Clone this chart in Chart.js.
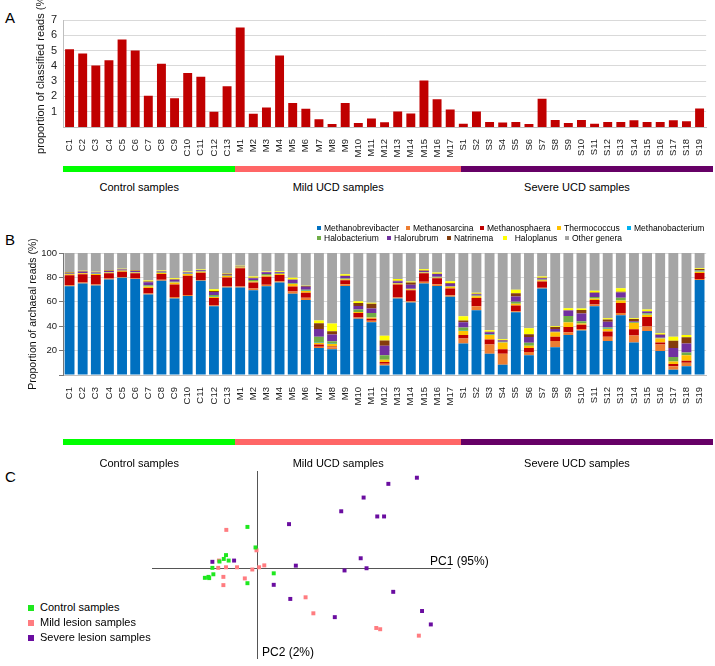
<!DOCTYPE html>
<html>
<head>
<meta charset="utf-8">
<script src="https://cdn.jsdelivr.net/npm/chart.js"></script>
<style>
body{margin:0;width:715px;height:666px;position:relative;background:#fff;font-family:"Liberation Sans",Arial,sans-serif;overflow:hidden;color:#000}
canvas{position:absolute}
.txt{position:absolute;white-space:nowrap}
.panel{font-size:15px}
.grp{position:absolute;height:6px}
.grpLabel{position:absolute;font-size:11px;transform:translateX(-50%);white-space:nowrap}
.leg{position:absolute;font-size:8.5px;white-space:nowrap;line-height:10px}
.leg i{display:inline-block;width:4px;height:4px;margin-right:3px;vertical-align:1px}
.cleg{position:absolute;font-size:11px;white-space:nowrap;line-height:12px}
.cleg i{display:inline-block;width:6px;height:6px;margin-right:6px;vertical-align:0}
</style>
</head>
<body>
<div class="txt panel" style="left:5px;top:9px">A</div>
<div class="txt panel" style="left:5px;top:231px">B</div>
<div class="txt panel" style="left:5px;top:468px">C</div>

<canvas id="chartA" width="715" height="160" style="left:0;top:0"></canvas>
<canvas id="chartB" width="715" height="212" style="left:0;top:200px"></canvas>
<canvas id="chartC" width="306" height="195" style="left:148px;top:467px"></canvas>

<div class="txt" style="left:430px;top:554px;font-size:12px">PC1 (95%)</div>
<div class="txt" style="left:262px;top:645px;font-size:12px">PC2 (2%)</div>

<div id="legendB"></div>
<div id="legendC"></div>
<div id="groupsA"></div>
<div id="groupsB"></div>

<script>
const samples = ["C1","C2","C3","C4","C5","C6","C7","C8","C9","C10","C11","C12","C13",
  "M1","M2","M3","M4","M5","M6","M7","M8","M9","M10","M11","M12","M13","M14","M15","M16","M17",
  "S1","S2","S3","S4","S5","S6","S7","S8","S9","S10","S11","S12","S13","S14","S15","S16","S17","S18","S19"];
const groupNames = ["Control samples","Mild UCD samples","Severe UCD samples"];
const groupSizes = [13,17,19];
const groupColors = ["#00FF00","#FF6666","#660066"];

// panel A
const classified = [5.08,4.81,4.02,4.37,5.72,5.01,2.05,4.13,1.88,3.53,3.29,0.99,2.67,
  6.51,0.86,1.28,4.68,1.57,1.19,0.51,0.2,1.57,0.26,0.55,0.31,1.02,0.88,3.05,1.81,1.15,
  0.22,1.02,0.33,0.29,0.33,0.2,1.85,0.46,0.26,0.46,0.22,0.33,0.33,0.44,0.33,0.33,0.44,0.38,1.21];
const ticksA = [1,2,3,4,5,6,7];

// panel B
const genera = ["Methanobrevibacter","Methanosarcina","Methanosphaera","Thermococcus","Methanobacterium",
  "Halobacterium","Halorubrum","Natrinema","Haloplanus","Other genera"];
const generaColors = ["#0070C0","#ED7D31","#C00000","#FFC000","#00B0F0","#70AD47","#7030A0","#843C0C","#FFFF00","#A5A5A5"];
const methanobrevibacter = [72.8,75,73.3,78.3,79.7,78.6,66,77.2,62.8,64.7,77.2,56.4,71.7,
  71.7,69.4,72.8,75.8,66.7,61.4,22.2,21.1,73,46.1,43.3,7.8,62.8,59.4,75,73,64.2,
  25.8,53,17.5,8.3,51.4,16.1,70.8,22.8,32.8,36.4,56.4,27.8,48.9,26.7,36.1,19.7,4.4,7.2,77.8];
const methanosarcina = [0.8,0.8,0.8,0.7,0.6,0.6,0.8,0.8,1.1,0.8,0.6,0.6,0.8,
  0.8,1.4,1.1,1.1,1.7,1.9,1,1.7,1.4,1.1,1.1,1.4,0.8,1.1,1.4,1.4,1.1,
  4.2,3.3,7.5,9.2,0.8,2.8,0.8,5,2.2,1.4,1.4,3.6,1.9,5.6,3.6,5.3,2.8,2.8,0.8];
const methanosphaera = [8.1,6.7,7.9,4.3,4.4,4.1,4.6,4.8,10.3,15.9,6,6.2,7.5,
  15,5,6.6,5,4.2,4.2,1.7,0.5,3.3,3.6,1.7,1.4,10.6,8.9,6.9,5,5.6,
  2.8,6.9,4.2,3.6,4.7,3.3,5,3.6,4.4,3.3,3.6,4.2,8.3,5.3,7.8,1.7,1.9,1.7,5];
const thermococcus = [0.8,0.8,0.8,0.8,0.7,0.8,1.2,0.8,1.7,1.4,0.8,0.8,1.1,
  0.6,0.8,1.1,0.8,1.9,1.4,1.4,2.2,0.8,0.8,1.1,1.9,0.8,0.8,0.8,0.6,1.4,
  3.3,1.4,3.6,5.6,1.4,1.7,1.1,3.6,3.9,1.1,1.4,2.2,1.9,5,1.9,3.3,1.9,4.4,1.1];
const methanobacterium = [0.1,0.1,0.1,0.1,0.1,0.1,0.1,0.1,0.1,0.1,0.1,0.1,0.1,
  0.1,0.1,0.1,0.1,0.1,0.1,0.1,0.1,0.1,0.1,0.1,0.1,0.1,0.1,0.1,0.1,0.1,
  0.1,0.1,0.1,0.1,0.1,0.1,0.1,0.1,0.1,0.1,0.1,0.1,0.1,0.1,0.1,0.1,0.1,0.1,0.1];
const halobacterium = [0.3,0.3,0.3,0.3,0.2,0.3,0.8,0.3,0.5,0.3,0.3,1.4,0.3,
  0.2,1.1,1.1,0.3,0.6,0.8,5,2,0.6,1.9,3.6,3.6,0.4,0.3,0.3,0.4,0.4,
  2.8,0.4,0.8,0.4,1.7,2.5,0.4,0.4,5,1.7,1.1,1.1,2.2,0.6,1.1,0.4,3.6,2.2,0.8];
const halorubrum = [0.8,1,0.8,0.8,0.7,0.8,2.6,0.8,1.5,0.8,0.8,2.5,0.6,
  0.4,1.6,1.4,1.1,2.8,2.5,6.4,5.5,1.9,3,3.6,7.8,1.4,3.3,0.8,2.2,1.9,
  4.2,1,1.4,1.1,4.2,4.7,1.1,2.2,4.4,6.4,3.3,4.7,4.4,0.8,1.4,2.2,7.5,7.5,0.4];
const natrinema = [0.3,0.3,0.3,0.3,0.2,0.3,0.6,0.3,0.5,0.3,0.3,0.8,0.8,
  0.2,0.3,0.2,0.2,0.3,0.6,4.7,2.8,0.3,2.5,3.9,4.2,0.4,1.9,0.3,0.3,0.8,
  1.4,0.4,0.4,0.3,2.8,2.2,0.4,1.7,0.3,2.8,0.4,1.7,0.6,1.9,0.3,0.4,5.8,5,0.8];
const haloplanus = [0.5,0.4,0.4,0.4,0.4,0.5,0.8,0.5,0.8,0.5,0.4,1.5,0.6,
  0.5,1.1,0.5,0.6,1.4,0.3,2.2,6.4,1.1,1.4,0.8,3.9,1.4,0.8,1.1,1.1,1.4,
  3.6,1,1.1,0.8,2.8,5,1,0.6,1.7,1.4,1.4,1.1,2.8,0.6,1.4,1.1,3.3,1.9,0.6];
const otherGenera = [15.5,14.6,15.3,14,13,13.9,22.5,14.4,20.7,15.2,13.5,29.7,16.5,
  10.5,19.2,15.1,15,20.3,26.8,55.3,57.7,17.5,39.5,40.8,67.9,21.3,23.4,13.3,15.9,23.1,
  51.8,32.5,63.4,70.6,30.1,61.6,19.3,60,45.2,45.4,30.9,53.5,28.9,53.4,46.3,65.8,68.7,67.2,12.6];
const ticksB = [0,20,40,60,80,100];

// panel C (PCA scores)
const pcaGroups = ["Control samples","Mild lesion samples","Severe lesion samples"];
const pcaColors = ["#1EE81E","#FF7C80","#6A0DA0"];
const controlPC1 = [-1.0,-0.17,-3.2,-3.43,-2.93,-3.87,-4.6,-4.5,-5.37,-5.0,-4.93,-1.0,1.7];
const controlPC2 = [4.37,2.23,1.43,1.03,0.86,0.76,0.1,-0.57,-0.94,-0.84,-0.97,-1.5,-0.47];
const mildPC1 = [-3.17,-0.07,-3.93,-4.0,-3.2,-2.07,-0.5,0.2,0.73,-3.47,-1.27,-3.47,4.97,5.77,12.23,12.63,16.6];
const mildPC2 = [4.06,1.93,0.86,0.1,0.16,0.16,-0.07,0.16,0.36,-0.84,-1.0,-1.7,-2.97,-4.64,-6.17,-6.3,-6.97];
const severePC1 = [-4.6,-2.37,3.27,3.97,1.7,3.4,7.97,8.63,10.93,12.33,13.03,13.47,16.4,10.63,8.97,11.23,13.97,16.93,17.83];
const severePC2 = [0.73,0.86,4.66,0.33,-1.67,-3.14,-5.04,6.0,7.43,5.46,5.46,8.86,9.5,1.1,-0.17,0.06,-2.4,-4.4,-5.8];

Chart.defaults.font.family = '"Liberation Sans", Arial, sans-serif';
Chart.defaults.color = "#222";
Chart.defaults.animation = false;

const plotLeft = 63, plotRight = 713;

// group bars under the x labels
const addGroups = (id, barTop, labelTop) => {
  const box = document.getElementById(id);
  const step = (plotRight - plotLeft) / samples.length;
  let start = 0;
  groupSizes.forEach((n, i) => {
    const bar = document.createElement("div");
    bar.className = "grp";
    bar.style.left = (plotLeft + start * step) + "px";
    bar.style.width = (n * step) + "px";
    bar.style.top = barTop + "px";
    bar.style.background = groupColors[i];
    box.appendChild(bar);
    const lab = document.createElement("div");
    lab.className = "grpLabel";
    lab.style.left = (plotLeft + (start + n / 2) * step - 10) + "px";
    lab.style.top = labelTop + "px";
    lab.innerHTML = groupNames[i];
    box.appendChild(lab);
    start += n;
  });
};
addGroups("groupsA", 166, 181);
addGroups("groupsB", 439, 457);

new Chart(document.getElementById("chartA"), {
  type: "bar",
  data: {
    labels: samples,
    datasets: [{
      data: classified,
      backgroundColor: "#C00000",
      barPercentage: 0.68,
      categoryPercentage: 1
    }]
  },
  options: {
    responsive: false,
    layout: { padding: { left: 34, top: 20, right: 2, bottom: 0 } },
    plugins: { legend: { display: false }, tooltip: { enabled: false } },
    scales: {
      x: {
        grid: { display: false },
        border: { color: "#BFBFBF" },
        ticks: { autoSkip: false, maxRotation: 90, minRotation: 90, padding: 4, font: { size: 9.5 } },
        afterFit: s => { s.height = 33; }
      },
      y: {
        min: 0, max: 7,
        afterBuildTicks: s => { s.ticks = ticksA.map(v => ({ value: v })); },
        grid: { color: "#D9D9D9", drawTicks: false },
        border: { color: "#BFBFBF" },
        ticks: { padding: 6, font: { size: 11 } },
        title: { display: true, text: "proportion of classified reads (%)", font: { size: 11 }, padding: 0, color: "#111" },
        afterFit: s => { s.width = 29; }
      }
    }
  }
});

const seriesB = [methanobrevibacter, methanosarcina, methanosphaera, thermococcus, methanobacterium,
  halobacterium, halorubrum, natrinema, haloplanus, otherGenera];

new Chart(document.getElementById("chartB"), {
  type: "bar",
  data: {
    labels: samples,
    datasets: seriesB.map((d, i) => ({
      label: genera[i],
      data: d,
      backgroundColor: generaColors[i],
      borderWidth: 0,
      barPercentage: 0.75,
      categoryPercentage: 1
    }))
  },
  options: {
    responsive: false,
    layout: { padding: { left: 27, top: 53, right: 2, bottom: 0 } },
    plugins: { legend: { display: false }, tooltip: { enabled: false } },
    scales: {
      x: {
        stacked: true,
        grid: { display: false },
        border: { color: "#BFBFBF" },
        ticks: { autoSkip: false, maxRotation: 90, minRotation: 90, padding: 4, font: { size: 9.5 } },
        afterFit: s => { s.height = 37; }
      },
      y: {
        stacked: true,
        min: 0, max: 100,
        afterBuildTicks: s => { s.ticks = ticksB.map(v => ({ value: v })); },
        grid: { color: "#D9D9D9", tickColor: "#777", tickLength: 4 },
        border: { color: "#777" },
        ticks: { padding: 2, font: { size: 9.5 }, callback: v => v === 0 ? "" : v },
        title: { display: true, text: "Proportion of archaeal reads (%)", font: { size: 10.5 }, padding: 0, color: "#111" },
        afterFit: s => { s.width = 36; }
      }
    }
  }
});

// legend for panel B, two rows like the figure
const legPos = [[317,223],[406,223],[480,223],[557,223],[627,223],[317,233],[387,233],[447,233],[503,233],[565,233]];
const legendB = document.getElementById("legendB");
genera.forEach((g, i) => {
  const d = document.createElement("div");
  d.className = "leg";
  d.style.left = legPos[i][0] + "px";
  d.style.top = legPos[i][1] + "px";
  d.innerHTML = '<i style="background:' + generaColors[i] + '"></i>' + (i === 8 ? "&nbsp;&nbsp;" : "") + g;
  legendB.appendChild(d);
});

const toPts = (a, b) => a.map((v, i) => ({ x: v, y: b[i] }));
const pcaData = [toPts(controlPC1, controlPC2), toPts(mildPC1, mildPC2), toPts(severePC1, severePC2)];

new Chart(document.getElementById("chartC"), {
  type: "scatter",
  data: {
    datasets: pcaData.map((d, i) => ({
      label: pcaGroups[i],
      data: d,
      backgroundColor: pcaColors[i],
      borderWidth: 0,
      pointStyle: "rect",
      pointRadius: 2.8
    }))
  },
  options: {
    responsive: false,
    layout: { padding: 0 },
    plugins: { legend: { display: false }, tooltip: { enabled: false } },
    scales: {
      x: {
        min: -10.8, max: 19.8,
        position: { y: 0 },
        grid: { display: false, drawTicks: false },
        border: { color: "#555" },
        ticks: { display: false }
      },
      y: {
        min: -9.3, max: 10.2,
        position: { x: 0 },
        grid: { display: false, drawTicks: false },
        border: { color: "#555" },
        ticks: { display: false }
      }
    }
  }
});

const legendC = document.getElementById("legendC");
pcaGroups.forEach((g, i) => {
  const d = document.createElement("div");
  d.className = "cleg";
  d.style.left = "28px";
  d.style.top = (601 + i * 15) + "px";
  d.innerHTML = '<i style="background:' + pcaColors[i] + '"></i>' + g;
  legendC.appendChild(d);
});
</script>
</body>
</html>
